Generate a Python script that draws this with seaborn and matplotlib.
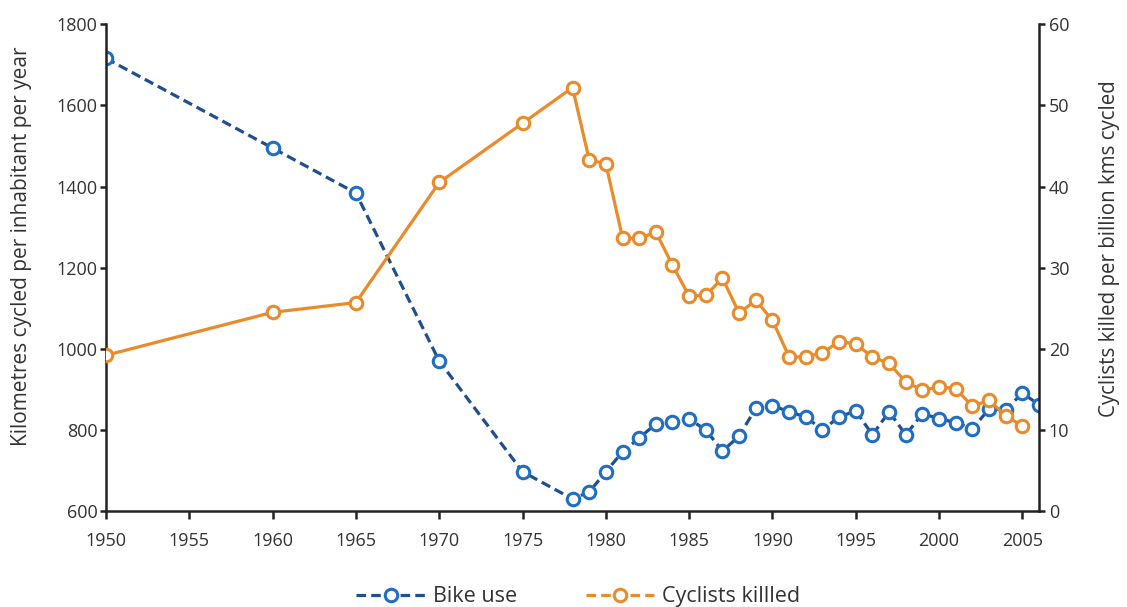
import matplotlib
matplotlib.use("Agg")
import matplotlib.pyplot as plt
import seaborn as sns
from matplotlib.lines import Line2D

# Bike use (km cycled per inhabitant per year)
bike_years = [1950, 1960, 1965, 1970, 1975, 1978, 1979, 1980, 1981, 1982, 1983, 1984,
              1985, 1986, 1987, 1988, 1989, 1990, 1991, 1992, 1993, 1994, 1995, 1996,
              1997, 1998, 1999, 2000, 2001, 2002, 2003, 2004, 2005, 2006]
bike_km = [1716, 1495, 1384, 970, 697, 630, 647, 697, 746, 780, 815, 820,
           827, 800, 748, 785, 854, 860, 845, 832, 800, 832, 847, 788,
           845, 788, 840, 828, 818, 803, 852, 850, 891, 862]

# Cyclists killed per billion km cycled
killed_years = [1950, 1960, 1965, 1970, 1975, 1978, 1979, 1980, 1981, 1982, 1983, 1984,
                1985, 1986, 1987, 1988, 1989, 1990, 1991, 1992, 1993, 1994, 1995, 1996,
                1997, 1998, 1999, 2000, 2001, 2002, 2003, 2004, 2005]
killed = [19.2, 24.5, 25.7, 40.5, 47.8, 52.2, 43.3, 42.8, 33.7, 33.6, 34.4, 30.3,
          26.5, 26.6, 28.7, 24.4, 26.0, 23.5, 19.0, 19.0, 19.5, 20.9, 20.6, 19.0,
          18.2, 15.9, 14.9, 15.3, 15.1, 12.9, 13.7, 11.7, 10.5]

x_ticks = list(range(1950, 2006, 5))
left_ticks = [600, 800, 1000, 1200, 1400, 1600, 1800]
right_ticks = [0, 10, 20, 30, 40, 50, 60]

blue_line = "#1f4f8f"
blue_mark = "#1f6ec4"
orange = "#e98a2b"
text_col = "#333333"
axis_col = "#222222"

sns.set_style("white")
plt.rcParams['font.family'] = ['Open Sans', 'DejaVu Sans']

fig = plt.figure(figsize=(11.27, 6.07), dpi=100)
ax = fig.add_axes([0.094, 0.158, 0.828, 0.802])
ax2 = ax.twinx()

sns.lineplot(x=bike_years, y=bike_km, ax=ax, color=blue_line, linewidth=2.3,
             linestyle=(0, (3, 1.6)), marker="o", markersize=9,
             markerfacecolor="white", markeredgecolor=blue_mark, markeredgewidth=2.2)
sns.lineplot(x=killed_years, y=killed, ax=ax2, color=orange, linewidth=2.3,
             marker="o", markersize=9, markerfacecolor="white",
             markeredgecolor=orange, markeredgewidth=2.2)

ax.set_xlim(1950, 2006)
ax.set_ylim(600, 1800)
ax2.set_ylim(0, 60)
ax.set_xticks(x_ticks)
ax.set_yticks(left_ticks)
ax2.set_yticks(right_ticks)

for a in (ax, ax2):
    a.spines['top'].set_visible(False)
    for s in ('left', 'right', 'bottom'):
        a.spines[s].set_color(axis_col)
        a.spines[s].set_linewidth(1.8)
ax.spines['right'].set_visible(False)
ax2.spines['left'].set_visible(False)
ax2.spines['bottom'].set_visible(False)

ax.tick_params(axis='x', direction='out', length=6, width=1.8, color=axis_col,
               labelsize=13, labelcolor=text_col, pad=9, bottom=True)
ax.tick_params(axis='y', direction='out', length=4, width=1.8, color=axis_col,
               labelsize=13, labelcolor=text_col, pad=2, left=True)
ax2.tick_params(axis='y', direction='out', length=4, width=1.8, color=axis_col,
                labelsize=13, labelcolor=text_col, pad=3, right=True)

ax.set_xlabel("")
ax.set_ylabel("Kilometres cycled per inhabitant per year", fontsize=15,
              color=text_col)
ax2.set_ylabel("Cyclists killed per billion kms cycled", fontsize=14.8,
               color=text_col)
ax.yaxis.set_label_coords(-0.079, 0.545)
ax2.yaxis.set_label_coords(1.064, 0.54)

handles = [
    Line2D([], [], color=blue_line, linewidth=2.3, linestyle=(0, (3, 1.6)),
           marker="o", markersize=9, markerfacecolor="white",
           markeredgecolor=blue_mark, markeredgewidth=2.2),
    Line2D([], [], color=orange, linewidth=2.3, linestyle=(0, (3, 1.6)),
           marker="o", markersize=9, markerfacecolor="white",
           markeredgecolor=orange, markeredgewidth=2.2),
]
fig.legend(handles, ["Bike use", "Cyclists killled"], loc="center",
           bbox_to_anchor=(0.513, 0.017), ncol=2, frameon=False, fontsize=15.5,
           handlelength=3.2, columnspacing=3.2, handletextpad=0.35,
           labelcolor=text_col, borderpad=0)

fig.savefig("out.png", dpi=100)
